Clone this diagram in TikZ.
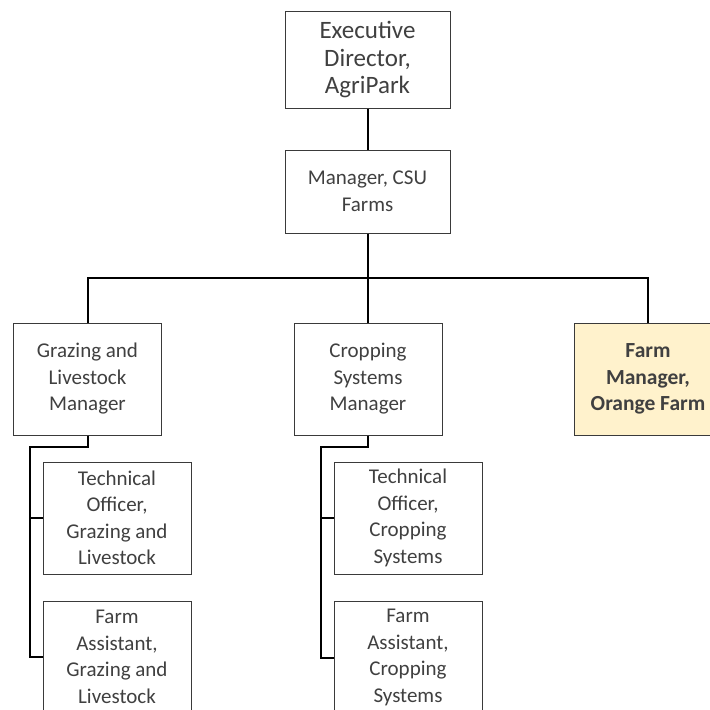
\documentclass[tikz,border=0pt]{standalone}
\usepackage{fontspec}
\setmainfont{Carlito}
\definecolor{txt}{HTML}{404040}
\definecolor{bord}{HTML}{3A3A3A}
\definecolor{hl}{HTML}{FFF2CC}
\tikzset{
  box/.style={draw=bord, line width=1pt, fill=white, align=center, text=txt,
    font=\fontsize{21}{26.5}\selectfont, inner sep=0pt, minimum width=148pt, minimum height=112pt},
  hlbox/.style={box, fill=hl, font=\fontsize{21.5}{26.5}\selectfont\bfseries},
  conn/.style={draw=black, line width=2pt}
}
\begin{document}
\begin{tikzpicture}[x=1pt,y=-1pt]
\useasboundingbox (0,0) rectangle (710,710);
\clip (0,0) rectangle (710,710);
% top
\node[box, minimum width=165pt, minimum height=97pt, font=\fontsize{25}{27.5}\selectfont] (ed) at (367.5,60) {Executive\\Director,\\AgriPark};
\node[box, minimum width=165pt, minimum height=83pt] (mgr) at (367.5,191.5) {Manager, CSU\\Farms};
% level 2
\node[box] (gl) at (87.5,379) {Grazing and\\Livestock\\Manager};
\node[box] (cs) at (368,379) {Cropping\\Systems\\Manager};
\node[hlbox] (of) at (648,379) {Farm\\Manager,\\Orange Farm};
% level 3
\node[box] (glt) at (117,518) {Technical\\Officer,\\Grazing and\\Livestock};
\node[box] (gla) at (117,657) {Farm\\Assistant,\\Grazing and\\Livestock};
\node[box] (cst) at (408,518) {Technical\\Officer,\\Cropping\\Systems};
\node[box] (csa) at (408,657.5) {Farm\\Assistant,\\Cropping\\Systems};
% connectors
\coordinate (bus) at (367.5,278);
\draw[conn] (ed.south) -- (mgr.north);
\draw[conn] (mgr.south) -- (bus);
\draw[conn] (gl.north) |- (bus);
\draw[conn] (of.north) |- (bus);
\draw[conn] (cs.north) -- (cs.north |- bus);
\coordinate (gk) at (30,447);
\coordinate (ck) at (321,447);
\draw[conn] (gl.south) |- (gk) |- (gla.west);
\draw[conn] (gk |- glt.west) -- (glt.west);
\draw[conn] (cs.south) |- (ck) |- (csa.west);
\draw[conn] (ck |- cst.west) -- (cst.west);
\end{tikzpicture}
\end{document}
